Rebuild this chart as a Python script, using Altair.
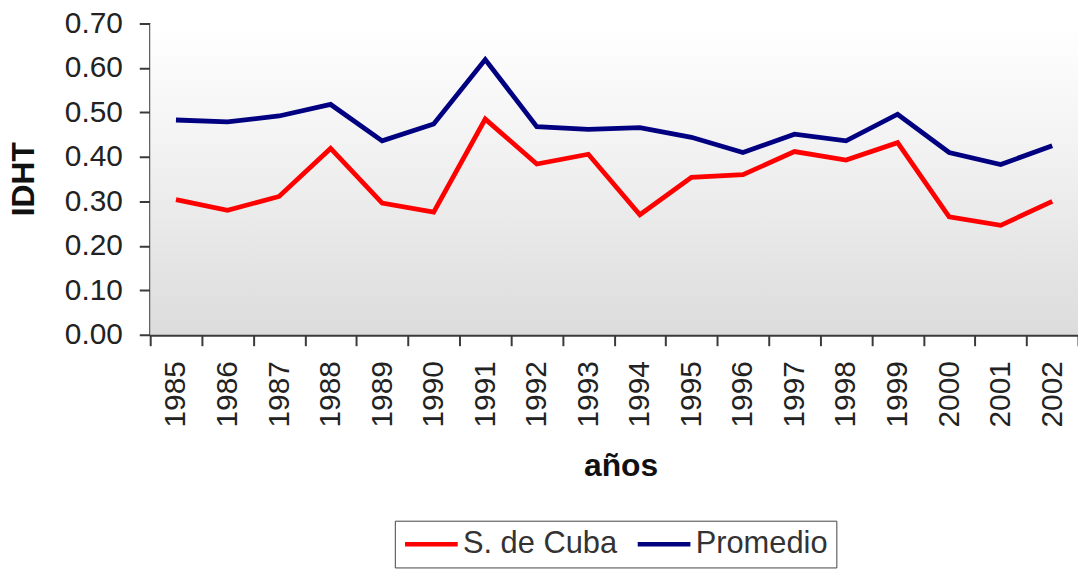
import altair as alt
import pandas as pd

years = ["1985", "1986", "1987", "1988", "1989", "1990", "1991", "1992", "1993",
         "1994", "1995", "1996", "1997", "1998", "1999", "2000", "2001", "2002"]
cuba = [0.304, 0.280, 0.311, 0.419, 0.296, 0.276, 0.485, 0.384, 0.406,
        0.270, 0.354, 0.360, 0.412, 0.393, 0.432, 0.265, 0.246, 0.300]
promedio = [0.483, 0.479, 0.492, 0.518, 0.436, 0.474, 0.619, 0.468, 0.462,
            0.466, 0.444, 0.410, 0.451, 0.436, 0.496, 0.410, 0.383, 0.425]
series_names = ["S. de Cuba", "Promedio"]
series_colors = ["#ff0000", "#000080"]
y_ticks = [0.0, 0.1, 0.2, 0.3, 0.4, 0.5, 0.6, 0.7]

rows = []
for name, vals in zip(series_names, [cuba, promedio]):
    for yr, v in zip(years, vals):
        rows.append({"anio": yr, "valor": v, "serie": name})
df = pd.DataFrame(rows)

FONT = "Liberation Sans"
W, H = 933, 313

background = alt.Chart(pd.DataFrame({"bg": [0]})).mark_rect(
    fill=alt.LinearGradient(
        gradient="linear",
        x1=0, x2=0, y1=0, y2=1,
        stops=[
            alt.GradientStop(color="#ffffff", offset=0),
            alt.GradientStop(color="#f4f4f4", offset=0.35),
            alt.GradientStop(color="#dcdcdc", offset=1),
        ],
    ),
    strokeWidth=0,
).encode(
    x=alt.value(0), x2=alt.value(W), y=alt.value(0), y2=alt.value(H)
)

lines = alt.Chart(df).mark_line(strokeWidth=4.8).encode(
    x=alt.X(
        "anio:O",
        sort=years,
        bandPosition=0.5,
        scale=alt.Scale(type="band", paddingInner=0, paddingOuter=0),
        axis=alt.Axis(
            title="años",
            labelAngle=270,
            labelFontSize=30,
            labelPadding=15,
            labelColor="#222222",
            tickBand="extent",
            tickSize=11,
            tickWidth=2,
            tickColor="#3a3a3a",
            domainColor="#3a3a3a",
            domainWidth=3,
            titleFontSize=32,
            titleFontWeight="bold",
            titleColor="#111111",
            titleBaseline="alphabetic",
            titleAlign="center",
            titleX=473,
            titleY=142,
            grid=False,
        ),
    ),
    y=alt.Y(
        "valor:Q",
        scale=alt.Scale(domain=[0, 0.7], nice=False),
        axis=alt.Axis(
            title="IDHT",
            values=y_ticks,
            format=".2f",
            labelFontSize=30,
            labelPadding=17,
            labelColor="#222222",
            tickSize=11,
            tickWidth=2,
            tickColor="#3a3a3a",
            domainColor="#3a3a3a",
            domainWidth=3,
            titleFontSize=32,
            titleFontWeight="bold",
            titleColor="#111111",
            titleAngle=270,
            titleBaseline="alphabetic",
            titleAlign="center",
            titleX=-117,
            titleY=156,
            grid=False,
        ),
    ),
    color=alt.Color(
        "serie:N",
        sort=series_names,
        scale=alt.Scale(domain=series_names, range=series_colors),
        legend=alt.Legend(
            title=None,
            orient="none",
            legendX=246,
            legendY=500,
            direction="horizontal",
            columns=2,
            columnPadding=11,
            symbolType="M-1,0H3",
            symbolSize=702,
            symbolStrokeWidth=4.5,
            labelFontSize=31,
            labelColor="#333333",
            labelOffset=29.5,
            padding=8,
            strokeColor="#444444",
            fillColor="#ffffff",
        ),
    ),
)

chart = alt.layer(background, lines).properties(
    width=W,
    height=H,
    padding={"left": 143, "top": 14, "right": 0, "bottom": 240},
    autosize=alt.AutoSizeParams(type="none"),
).configure(
    font=FONT,
).configure_view(
    stroke="transparent",
)

chart.save("out.html", embed_options={"renderer": "svg", "actions": False})
